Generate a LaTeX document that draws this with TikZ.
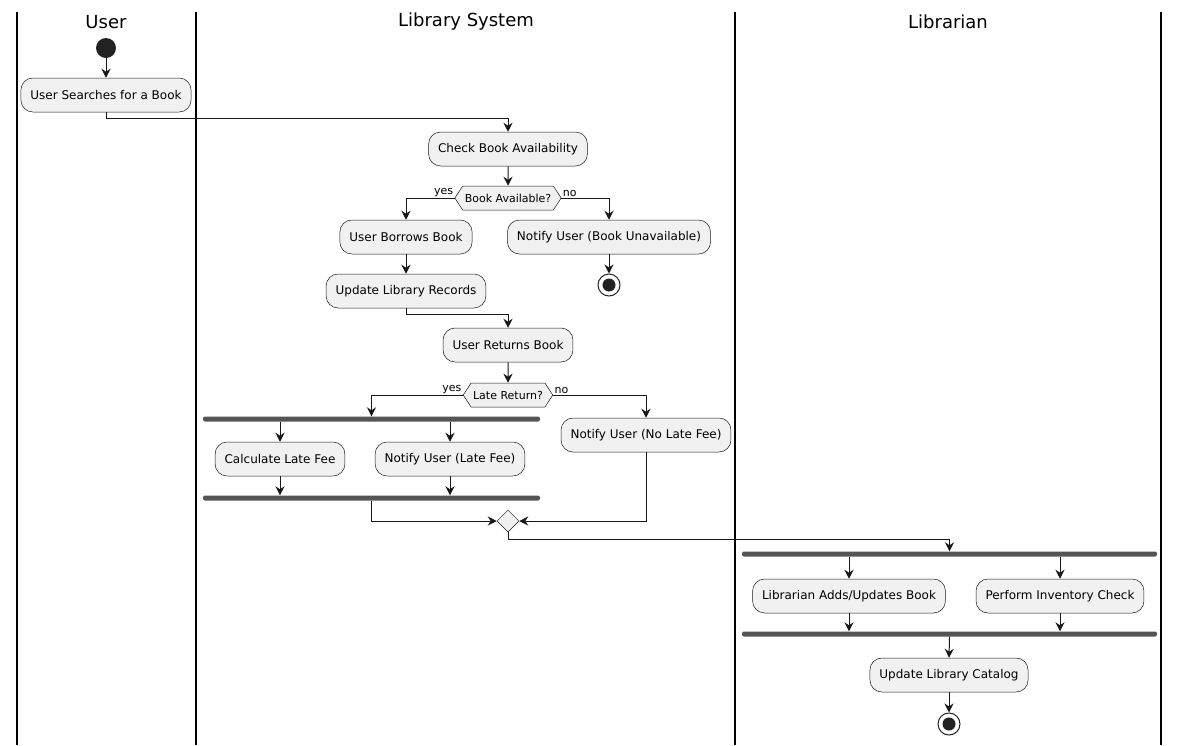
\documentclass[tikz,border=0pt]{standalone}
\usepackage{fontspec}
\setmainfont{DejaVu Sans}
\usetikzlibrary{positioning,arrows.meta,shapes.geometric,shapes.symbols}
\definecolor{boxfill}{HTML}{F1F1F1}
\definecolor{ink}{HTML}{181818}
\definecolor{barcol}{HTML}{555555}
\definecolor{dotcol}{HTML}{222222}

\begin{document}
\begin{tikzpicture}[x=1pt, y=-1pt,
    act/.style={rectangle, rounded corners=12pt, draw=ink, line width=0.5pt, fill=boxfill,
                minimum height=34pt, inner xsep=9.5pt, font=\fontsize{12}{14}\selectfont},
    dec/.style={signal, signal to=west and east, signal pointer angle=113, draw=ink,
                line width=0.5pt, fill=boxfill, minimum height=24pt, inner xsep=2pt,
                inner ysep=0pt, font=\fontsize{11}{13}\selectfont},
    mergebox/.style={diamond, draw=ink, line width=0.5pt, fill=boxfill, minimum size=22pt, inner sep=0pt},
    bar/.style={rectangle, rounded corners=2pt, fill=barcol, minimum height=5pt, inner sep=0pt},
    begdot/.style={circle, fill=dotcol, minimum size=20pt, inner sep=0pt},
    enddot/.style={circle, draw=dotcol, line width=1pt, fill=white, minimum size=22pt, inner sep=0pt,
                   path picture={\fill[dotcol] (path picture bounding box.center) circle (6.5pt);}},
    lane/.style={font=\fontsize{18}{21}\selectfont},
    lbl/.style={font=\fontsize{11}{13}\selectfont, inner sep=1pt},
    flow/.style={-{Stealth[length=9pt,width=9pt,inset=3pt]}, draw=ink, line width=1pt}]
    \useasboundingbox (0,0) rectangle (1179,745);
    % swimlanes
    \foreach \x in {17,196,735,1161}
      \draw[line width=1.2pt] (\x,12) -- (\x,745);
    \node[lane] (tUser) at (106,22) {User};
    \node[lane] (tSys) at (466,22) {Library System};
    \node[lane] (tLib) at (948,22) {Librarian};
    % nodes
    \node[begdot] (begin) at (106,48) {};
    \node[act] (uSearch) at (106,95) {User Searches for a Book};
    \node[act] (cAvail) at (508,149) {Check Book Availability};
    \node[dec] (dAvail) at (508,198) {Book Available?};
    \node[act] (uBorrow) at (406,237) {User Borrows Book};
    \node[act] (nUnav) at (609,237) {Notify User (Book Unavailable)};
    \node[enddot] (stopA) at (609,285) {};
    \node[act] (uRec) at (406,291) {Update Library Records};
    \node[act] (uRet) at (508,345) {User Returns Book};
    \node[dec] (dLate) at (508,395) {Late Return?};
    \node[act] (nNoFee) at (646,435) {Notify User (No Late Fee)};
    \node[bar, minimum width=337pt] (fkFee) at (371.5,419) {};
    \node[act] (cFee) at (280,459) {Calculate Late Fee};
    \node[act] (nFee) at (450,459) {Notify User (Late Fee)};
    \node[bar, minimum width=337pt] (jnFee) at (371.5,498) {};
    \node[mergebox] (mrg) at (508,521) {};
    \node[bar, minimum width=415pt] (fkLib) at (949.5,554) {};
    \node[act] (lAdd) at (849,596) {Librarian Adds/Updates Book};
    \node[act] (pInv) at (1060,596) {Perform Inventory Check};
    \node[bar, minimum width=415pt] (jnLib) at (949.5,634) {};
    \node[act] (uCat) at (949,675) {Update Library Catalog};
    \node[enddot] (stopB) at (949,724) {};
    % connectors
    \draw[flow] (begin) -- (uSearch);
    \draw[flow] (uSearch.south) -- ++(0,6) -| (cAvail.north);
    \draw[flow] (cAvail) -- (dAvail);
    \draw[flow] (dAvail.west) node[lbl, anchor=south east] {yes} -| (uBorrow.north);
    \draw[flow] (dAvail.east) node[lbl, anchor=south west] {no} -| (nUnav.north);
    \draw[flow] (uBorrow) -- (uRec);
    \draw[flow] (nUnav) -- (stopA);
    \draw[flow] (uRec.south) -- ++(0,6) -| (uRet.north);
    \draw[flow] (uRet) -- (dLate);
    \draw[flow] (dLate.west) node[lbl, anchor=south east] {yes} -| (fkFee.north);
    \draw[flow] (dLate.east) node[lbl, anchor=south west] {no} -| (nNoFee.north);
    \draw[flow] (cFee |- fkFee.south) -- (cFee.north);
    \draw[flow] (nFee |- fkFee.south) -- (nFee.north);
    \draw[flow] (cFee.south) -- (cFee |- jnFee.north);
    \draw[flow] (nFee.south) -- (nFee |- jnFee.north);
    \draw[flow] (jnFee.south) |- (mrg.west);
    \draw[flow] (nNoFee.south) |- (mrg.east);
    \draw[flow] (mrg.south) -- ++(0,7) -| (fkLib.north);
    \draw[flow] (lAdd |- fkLib.south) -- (lAdd.north);
    \draw[flow] (pInv |- fkLib.south) -- (pInv.north);
    \draw[flow] (lAdd.south) -- (lAdd |- jnLib.north);
    \draw[flow] (pInv.south) -- (pInv |- jnLib.north);
    \draw[flow] (jnLib.south) -- (uCat.north);
    \draw[flow] (uCat) -- (stopB);
  \end{tikzpicture}
\end{document}
